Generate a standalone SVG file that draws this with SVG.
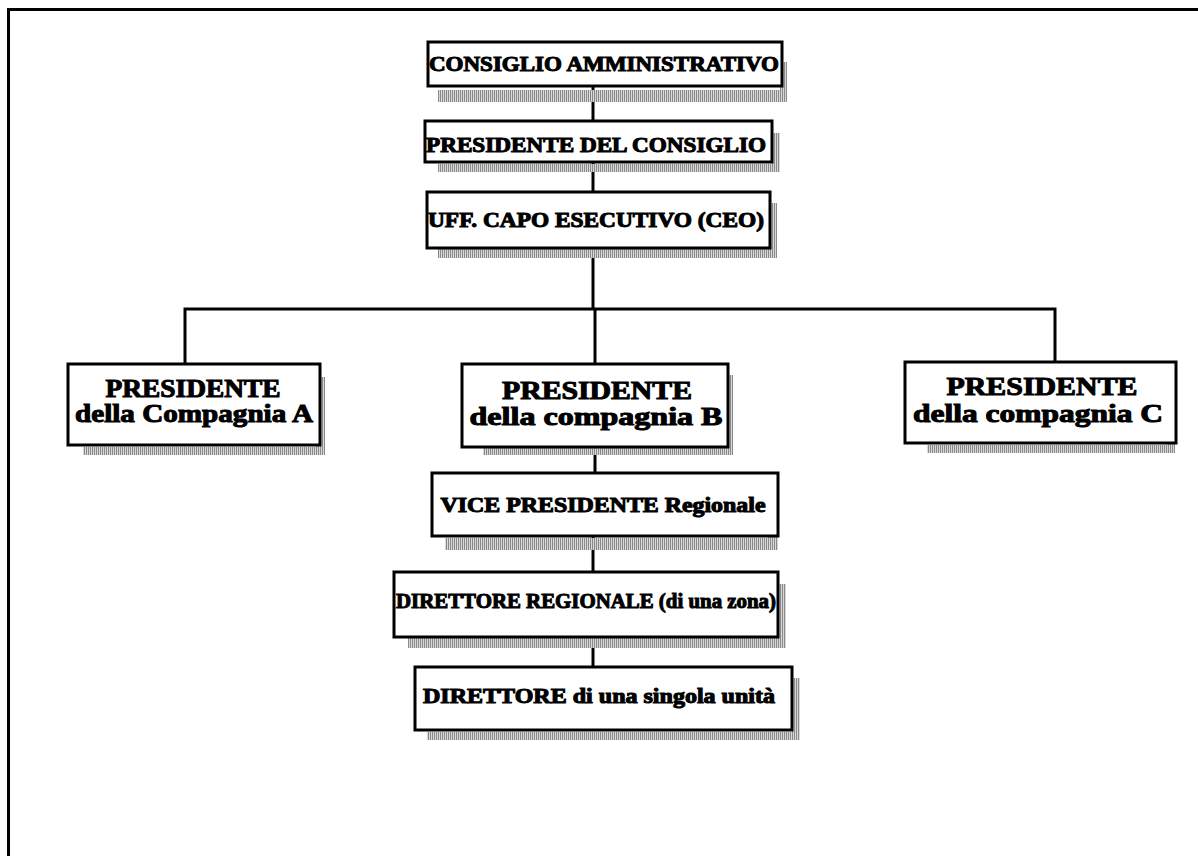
<svg xmlns="http://www.w3.org/2000/svg" width="1198" height="856" viewBox="0 0 1198 856">
  <defs>
    <!-- fine vertical hatching used for the drop shadows -->
    <pattern id="hatch" width="2" height="2" patternUnits="userSpaceOnUse">
      <rect x="0" y="0" width="1" height="2" fill="#8a8a8a"/>
      <rect x="1" y="0" width="1" height="2" fill="#d8d8d8"/>
    </pattern>
  </defs>
  <style>
    .frame { fill: none; stroke: #000; stroke-width: 3; }
    .box { fill: #fff; stroke: #000; stroke-width: 3; }
    .shadow { fill: url(#hatch); }
    .link { fill: none; stroke: #000; stroke-width: 3; }
    .lbl { font-family: "Liberation Serif", "Times New Roman", serif; font-weight: bold; fill: #000; stroke: #000; stroke-width: 1; text-anchor: middle; }
    .s1 { font-size: 20px; }
    .s2 { font-size: 25px; }
  </style>

  <rect width="1198" height="856" fill="#fff"/>
  <!-- page frame, running off the right and bottom edges -->
  <rect class="frame" x="8.5" y="9.5" width="1220" height="900"/>

  <g id="connectors">
    <line class="link" x1="593" y1="86" x2="593" y2="121"/>
    <line class="link" x1="593" y1="162" x2="593" y2="192"/>
    <line class="link" x1="593" y1="248" x2="593" y2="309"/>
    <polyline class="link" points="185,364 185,309 1055,309 1055,362"/>
    <line class="link" x1="595" y1="309" x2="595" y2="364"/>
    <line class="link" x1="595" y1="447" x2="595" y2="473"/>
    <line class="link" x1="593" y1="536" x2="593" y2="572"/>
    <line class="link" x1="593" y1="637" x2="593" y2="667"/>
  </g>

  <g id="consiglio">
    <rect class="shadow" x="780" y="62" width="7" height="28"/>
    <rect class="shadow" x="438" y="90" width="349" height="12"/>
    <rect class="box" x="428" y="42" width="354" height="44"/>
    <text class="lbl s1" x="604" y="71" textLength="350" lengthAdjust="spacingAndGlyphs">CONSIGLIO AMMINISTRATIVO</text>
  </g>

  <g id="presidente-consiglio">
    <rect class="shadow" x="772" y="133" width="8" height="31"/>
    <rect class="shadow" x="438" y="164" width="342" height="8"/>
    <rect class="box" x="425" y="121" width="347" height="41"/>
    <text class="lbl s1" x="596" y="152" textLength="340" lengthAdjust="spacingAndGlyphs">PRESIDENTE DEL CONSIGLIO</text>
  </g>

  <g id="ceo">
    <rect class="shadow" x="768" y="203" width="9" height="46"/>
    <rect class="shadow" x="438" y="249" width="339" height="9"/>
    <rect class="box" x="427" y="192" width="343" height="56"/>
    <text class="lbl s1" x="596" y="227" textLength="336" lengthAdjust="spacingAndGlyphs">UFF. CAPO ESECUTIVO (CEO)</text>
  </g>

  <g id="presidente-a">
    <rect class="shadow" x="315" y="377" width="10" height="70"/>
    <rect class="shadow" x="83" y="447" width="242" height="8"/>
    <rect class="box" x="68" y="364" width="252" height="81"/>
    <text class="lbl s2" x="193" y="397" textLength="175" lengthAdjust="spacingAndGlyphs">PRESIDENTE</text>
    <text class="lbl s2" x="194" y="422" textLength="238" lengthAdjust="spacingAndGlyphs">della Compagnia A</text>
  </g>

  <g id="presidente-b">
    <rect class="shadow" x="725" y="375" width="8" height="73"/>
    <rect class="shadow" x="483" y="448" width="250" height="7"/>
    <rect class="box" x="462" y="364" width="266" height="83"/>
    <text class="lbl s2" x="597" y="399" textLength="190" lengthAdjust="spacingAndGlyphs">PRESIDENTE</text>
    <text class="lbl s2" x="596" y="425" textLength="253" lengthAdjust="spacingAndGlyphs">della compagnia B</text>
  </g>

  <g id="presidente-c">
    <rect class="shadow" x="1167" y="375" width="8" height="70"/>
    <rect class="shadow" x="927" y="445" width="248" height="8"/>
    <rect class="box" x="905" y="362" width="271" height="81"/>
    <text class="lbl s2" x="1042" y="395" textLength="191" lengthAdjust="spacingAndGlyphs">PRESIDENTE</text>
    <text class="lbl s2" x="1038" y="422" textLength="250" lengthAdjust="spacingAndGlyphs">della compagnia C</text>
  </g>

  <g id="vice-presidente">
    <rect class="shadow" x="768" y="485" width="10" height="53"/>
    <rect class="shadow" x="445" y="538" width="333" height="12"/>
    <rect class="box" x="432" y="473" width="346" height="63"/>
    <text class="lbl s1" x="603" y="512" textLength="325" lengthAdjust="spacingAndGlyphs">VICE PRESIDENTE Regionale</text>
  </g>

  <g id="direttore-regionale">
    <rect class="shadow" x="778" y="584" width="8" height="54"/>
    <rect class="shadow" x="408" y="638" width="378" height="10"/>
    <rect class="box" x="394" y="572" width="384" height="65"/>
    <text class="lbl s1" x="586" y="608" textLength="380" lengthAdjust="spacingAndGlyphs">DIRETTORE REGIONALE (di una zona)</text>
  </g>

  <g id="direttore-unita">
    <rect class="shadow" x="792" y="678" width="8" height="54"/>
    <rect class="shadow" x="427" y="732" width="373" height="8"/>
    <rect class="box" x="415" y="667" width="377" height="63"/>
    <text class="lbl s1" x="599" y="703" textLength="352" lengthAdjust="spacingAndGlyphs">DIRETTORE di una singola unità</text>
  </g>
</svg>
